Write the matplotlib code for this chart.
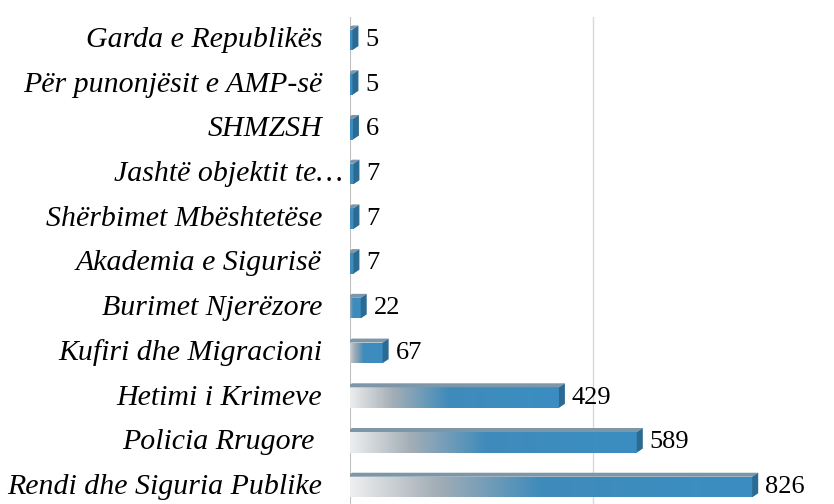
import numpy as np
import matplotlib
matplotlib.use('Agg')
import matplotlib.pyplot as plt
from matplotlib.colors import LinearSegmentedColormap
from matplotlib.patches import Polygon
from matplotlib.transforms import blended_transform_factory

# data (bottom to top)
categories = ['Rendi dhe Siguria Publike', 'Policia Rrugore ', 'Hetimi i Krimeve',
              'Kufiri dhe Migracioni', 'Burimet Njerëzore', 'Akademia e Sigurisë',
              'Shërbimet Mbështetëse', 'Jashtë objektit te…', 'SHMZSH',
              'Për punonjësit e AMP-së', 'Garda e Republikës']
values = [826, 589, 429, 67, 22, 7, 7, 7, 6, 5, 5]

W, H = 834, 504
fig = plt.figure(figsize=(W / 100, H / 100), dpi=100)
ax = fig.add_axes([350 / W, 0, 484 / W, 487 / H])
xmax = 994
ax.set_xlim(0, xmax)
ax.set_ylim(-0.38, 10.51)

cmap = LinearSegmentedColormap.from_list(
    'grad', [(0, '#f2f2f2'), (0.22, '#a4aeb6'), (0.48, '#3f8bbb'), (1, '#3b8ec2')])
grad = np.linspace(0, 1, 256).reshape(1, -1)

px_x = xmax / 484          # data units per pixel (x)
px_y = 10.89 / 487         # data units per pixel (y)
dx, dy = 6 * px_x, 4 * px_y
h = 0.46

ax.axvline(500, color='#d9d9d9', lw=1, zorder=0)

bars = ax.barh(range(len(values)), values, height=h, color='none', zorder=2)
for i, (b, v) in enumerate(zip(bars, values)):
    y0, y1 = i - h / 2, i + h / 2
    x0 = -4 * px_x
    im = ax.imshow(grad, cmap=cmap, extent=(x0, v, y0, y1), aspect='auto',
                   interpolation='bilinear', zorder=2)
    im.set_clip_path(b)
    b.set_x(x0)
    b.set_width(v - x0)
    # top face
    ax.add_patch(Polygon([(x0, y1), (v, y1), (v + dx, y1 + dy), (x0 + dx, y1 + dy)],
                         closed=True, facecolor='#7d97a8', edgecolor='none', zorder=2))
    # side face
    ax.add_patch(Polygon([(v, y0), (v + dx, y0 + dy), (v + dx, y1 + dy), (v, y1)],
                         closed=True, facecolor='#2b6a92', edgecolor='none', zorder=3))
    ax.text(v + dx + 7 * px_x, i, str(v), ha='left', va='center',
            fontsize=19, family='Liberation Serif', color='black')

ax.axvline(0, color='#bfbfbf', lw=1.5, zorder=1)

trans = blended_transform_factory(fig.transFigure, ax.transData)
for i, c in enumerate(categories):
    xr = 322 if not c.startswith('Jasht') else 343
    ax.text(xr / W, i, c, transform=trans, ha='right', va='center',
            fontsize=21.5, family='Liberation Serif', style='italic')

ax.set_yticks([])
ax.set_xticks([])
for s in ax.spines.values():
    s.set_visible(False)

fig.savefig('out.png', dpi=100)
